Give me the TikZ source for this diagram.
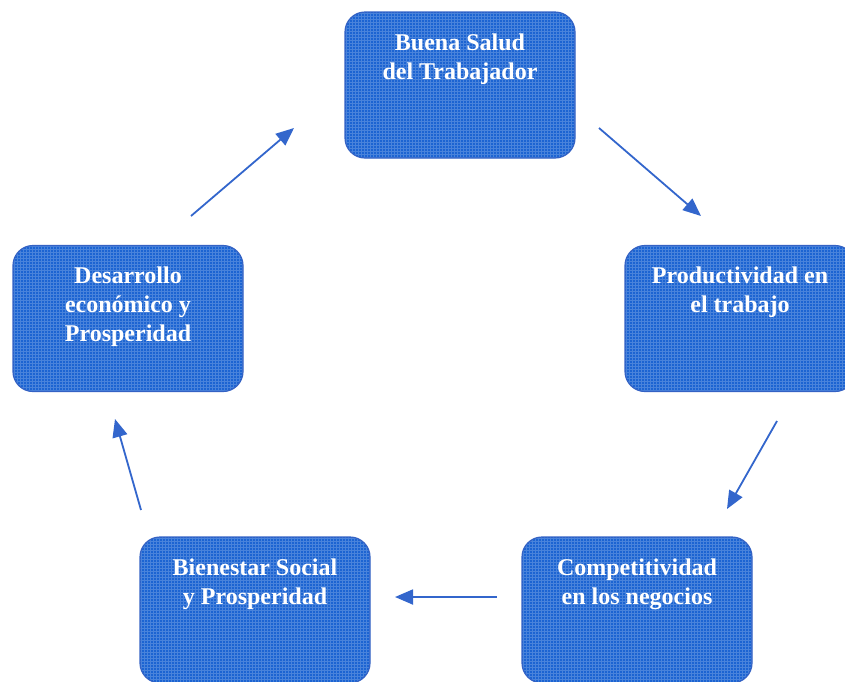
\documentclass[tikz,border=0pt]{standalone}
\usepackage{fontspec}
\setmainfont{Liberation Serif}
\usetikzlibrary{arrows.meta, positioning, calc}
\definecolor{boxblue}{RGB}{28,100,210}
\definecolor{boxedge}{RGB}{52,98,196}
\definecolor{arrowblue}{RGB}{51,102,204}

\begin{document}
\begin{tikzpicture}[x=1pt, y=-1pt,
  box/.style={draw=boxedge, line width=1.2pt, fill=boxblue, rounded corners=20pt,
    minimum width=230pt, minimum height=146pt, inner sep=0pt,
    path picture={\draw[white, opacity=0.2, line width=0.5pt, step=3pt]
      (path picture bounding box.south west) grid (path picture bounding box.north east);}},
  boxtext/.style={anchor=north, inner sep=0pt, text=white, align=center,
    font=\fontsize{24}{29}\selectfont\bfseries},
  flow/.style={-{Triangle[length=18pt, width=15pt]}, arrowblue, line width=1.8pt}]
  \useasboundingbox (0,0) rectangle (845,681);

  % Top box
  \node[box] (salud) at (460,85) {};
  \node[boxtext] (saludtxt) at ([yshift=-22pt]salud.north) {Buena Salud\\del Trabajador};

  % Right box
  \node[box] (prod) at (740,318.5) {};
  \node[boxtext] (prodtxt) at ([yshift=-22pt]prod.north) {Productividad en\\el trabajo};

  % Bottom right box
  \node[box] (comp) at (637,610) {};
  \node[boxtext] (comptxt) at ([yshift=-22pt]comp.north) {Competitividad\\en los negocios};

  % Bottom left box
  \node[box] (bien) at (255,610) {};
  \node[boxtext] (bientxt) at ([yshift=-22pt]bien.north) {Bienestar Social\\y Prosperidad};

  % Left box
  \node[box] (desa) at (128,318.5) {};
  \node[boxtext] (desatxt) at ([yshift=-22pt]desa.north) {Desarrollo\\económico y\\Prosperidad};

  % Arrow end points
  \coordinate (a1s) at (191,216);
  \coordinate (a1e) at (294,128);
  \coordinate (a2s) at (599,128);
  \coordinate (a2e) at (701,216);
  \coordinate (a3s) at (777,421);
  \coordinate (a3e) at (727,509);
  \coordinate (a4s) at (497,597);
  \coordinate (a4e) at (395,597);
  \coordinate (a5s) at (141,510);
  \coordinate (a5e) at (115,419);

  % Arrows
  \draw[flow] (a1s) -- (a1e);
  \draw[flow] (a2s) -- (a2e);
  \draw[flow] (a3s) -- (a3e);
  \draw[flow] (a4s) -- (a4e);
  \draw[flow] (a5s) -- (a5e);
\end{tikzpicture}
\end{document}
